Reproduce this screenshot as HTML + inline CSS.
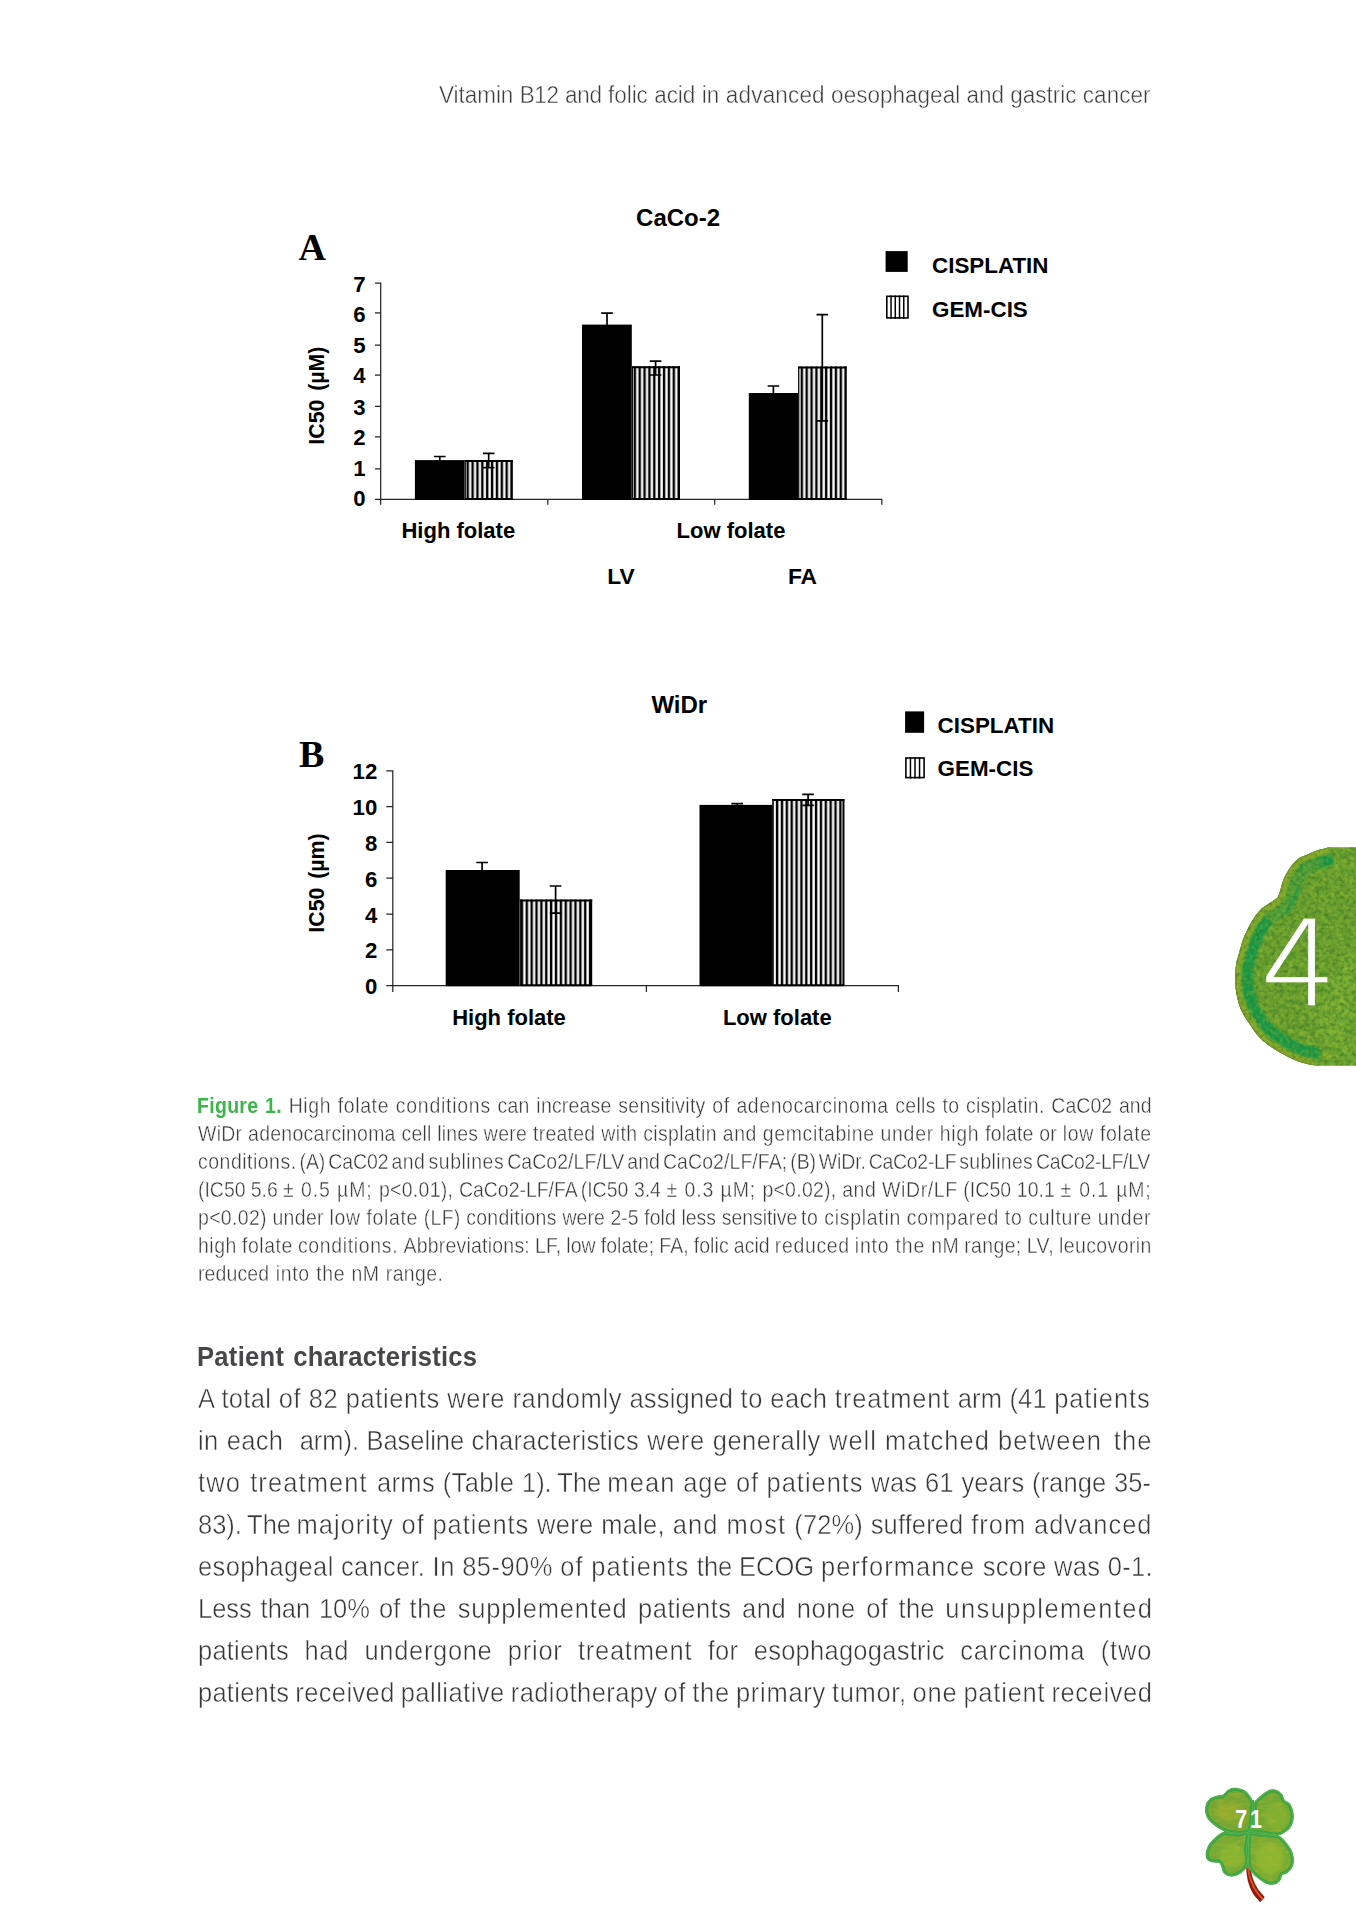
<!DOCTYPE html>
<html lang="en">
<head>
<meta charset="utf-8">
<title>Vitamin B12 and folic acid in advanced oesophageal and gastric cancer</title>
<style>
html,body{margin:0;padding:0;background:#fff;}
body{width:1356px;height:1920px;position:relative;overflow:hidden;font-family:"Liberation Sans",sans-serif;color:#58585a;}
.ln{position:absolute;white-space:nowrap;margin:0;transform-origin:0 0;transform:scaleX(0.91);}
.cap{font-size:21.4px;line-height:28px;color:#3a3a3c;-webkit-text-stroke:0.4px #fff;}
.cap b{color:#3bb54a;font-weight:bold;-webkit-text-stroke:0;}
.bd{font-size:28.0px;line-height:42px;color:#38383a;-webkit-text-stroke:0.5px #fff;}
.hd{font-size:24.7px;line-height:36px;color:#3c3c3e;-webkit-text-stroke:0.45px #fff;}
.h2{font-size:28.4px;line-height:42px;font-weight:bold;color:#474749;transform:scaleX(0.90);}
svg{position:absolute;left:0;top:0;overflow:visible;}
svg text{font-family:"Liberation Sans",sans-serif;font-weight:bold;fill:#000;}
</style>
</head>
<body>

<div class="ln hd" style="left:439.00px;top:77.34px"><span style="letter-spacing:-0.03px;word-spacing:0.16px">Vitamin </span><span style="letter-spacing:-0.34px;word-spacing:0.47px">B12 and </span><span style="letter-spacing:-0.03px;word-spacing:0.16px">folic acid </span><span style="letter-spacing:0.20px;word-spacing:-0.07px">in advanced </span><span style="letter-spacing:0.04px;word-spacing:0.09px">oesophageal </span><span style="letter-spacing:-0.01px;word-spacing:0.14px">and gastric </span><span style="letter-spacing:0.06px">cancer</span></div>
<svg id="charts" width="1356" height="1080" viewBox="0 0 1356 1080">
<defs><pattern id="st" x="0" y="0" width="4.87" height="8" patternUnits="userSpaceOnUse"><rect x="0" y="0" width="4.87" height="8" fill="#fff"/><rect x="1.8" y="0" width="2.45" height="8" fill="#000"/></pattern></defs>
<path d="M380.7 282.50V504.80M374.90 499.4H882.3M547.8 499.4v5.4M714.7 499.4v5.4M881.8 499.4v5.4M374.90 468.75H380.7M374.90 436.90H380.7M374.90 406.25H380.7M374.90 375.00H380.7M374.90 345.00H380.7M374.90 312.90H380.7M374.90 283.10H380.7" stroke="#262626" stroke-width="1.25" fill="none"/>
<text x="365.7" y="506.35" font-size="22.2" text-anchor="end">0</text>
<text x="365.7" y="475.70" font-size="22.2" text-anchor="end">1</text>
<text x="365.7" y="445.40" font-size="22.2" text-anchor="end">2</text>
<text x="365.7" y="415.10" font-size="22.2" text-anchor="end">3</text>
<text x="365.7" y="382.90" font-size="22.2" text-anchor="end">4</text>
<text x="365.7" y="352.90" font-size="22.2" text-anchor="end">5</text>
<text x="365.7" y="321.70" font-size="22.2" text-anchor="end">6</text>
<text x="365.7" y="291.70" font-size="22.2" text-anchor="end">7</text>
<rect x="414.90" y="460.10" width="49.80" height="39.90" fill="#000"/>
<g transform="translate(464.70 0)"><rect x="0.00" y="460.10" width="48.00" height="39.30" fill="url(#st)"/></g><path d="M464.70 461.10H512.70M464.70 499.10H512.70" stroke="#000" stroke-width="2" fill="none"/><path d="M511.80 460.10V499.40" stroke="#000" stroke-width="1.8" fill="none"/><path d="M465.25 460.10V499.40" stroke="#000" stroke-width="1.2" fill="none"/>
<rect x="582.00" y="324.60" width="49.80" height="175.40" fill="#000"/>
<g transform="translate(631.80 0)"><rect x="0.00" y="366.20" width="48.20" height="133.20" fill="url(#st)"/></g><path d="M631.80 367.20H680.00M631.80 499.10H680.00" stroke="#000" stroke-width="2" fill="none"/><path d="M679.10 366.20V499.40" stroke="#000" stroke-width="1.8" fill="none"/><path d="M632.35 366.20V499.40" stroke="#000" stroke-width="1.2" fill="none"/>
<rect x="748.80" y="393.00" width="49.40" height="107.00" fill="#000"/>
<g transform="translate(798.80 0)"><rect x="-0.60" y="366.50" width="48.40" height="132.90" fill="url(#st)"/></g><path d="M798.20 367.50H846.60M798.20 499.10H846.60" stroke="#000" stroke-width="2" fill="none"/><path d="M845.70 366.50V499.40" stroke="#000" stroke-width="1.8" fill="none"/><path d="M798.75 366.50V499.40" stroke="#000" stroke-width="1.2" fill="none"/>
<path d="M439.80 456.50V461.00M434.00 456.50h11.6" stroke="#000" stroke-width="1.7" fill="none"/>
<path d="M488.70 453.30V467.60M482.90 453.30h11.6M482.90 467.60h11.6" stroke="#000" stroke-width="1.7" fill="none"/>
<path d="M607.00 313.10V325.00M601.20 313.10h11.6" stroke="#000" stroke-width="1.7" fill="none"/>
<path d="M655.60 361.10V375.00M649.80 361.10h11.6M649.80 375.00h11.6" stroke="#000" stroke-width="1.7" fill="none"/>
<path d="M773.40 386.00V394.00M767.60 386.00h11.6" stroke="#000" stroke-width="1.7" fill="none"/>
<path d="M822.30 314.60V420.90M816.50 314.60h11.6M816.50 420.90h11.6" stroke="#000" stroke-width="1.7" fill="none"/>
<text x="678.1" y="226" font-size="24" text-anchor="middle">CaCo-2</text>
<text x="312.2" y="260.2" font-size="38" text-anchor="middle" style="font-family:'Liberation Serif',serif">A</text>
<text transform="translate(324.4 395.6) rotate(-90) scale(0.957 1)" font-size="22.3" text-anchor="middle" style="word-spacing:3px">IC50 (µM)</text>
<text x="458.3" y="538" font-size="22" text-anchor="middle">High folate</text>
<text x="731" y="538" font-size="22" text-anchor="middle">Low folate</text>
<text x="620.9" y="584" font-size="22.8" text-anchor="middle">LV</text>
<text x="802.5" y="584" font-size="22.8" text-anchor="middle">FA</text>
<rect x="885.6" y="251.1" width="22.1" height="20.8" fill="#000"/>
<rect x="886.80" y="296.30" width="21.20" height="21.60" fill="#fff" stroke="#000" stroke-width="1.6"/><path d="M891.04 295.50v23.20M895.28 295.50v23.20M899.52 295.50v23.20M903.76 295.50v23.20" stroke="#000" stroke-width="1.5" fill="none"/>
<text x="932" y="272.7" font-size="22.4">CISPLATIN</text>
<text x="932" y="316.9" font-size="22.4">GEM-CIS</text>
<path d="M392.8 770.20V992.00M386.30 985.6H898.9M646.4 985.6v6.4M898.4 985.6v6.4M386.30 949.80H392.8M386.30 914.00H392.8M386.30 878.20H392.8M386.30 842.40H392.8M386.30 806.60H392.8M386.30 770.80H392.8" stroke="#262626" stroke-width="1.25" fill="none"/>
<text x="377.3" y="994.10" font-size="22.2" text-anchor="end">0</text>
<text x="377.3" y="958.30" font-size="22.2" text-anchor="end">2</text>
<text x="377.3" y="922.50" font-size="22.2" text-anchor="end">4</text>
<text x="377.3" y="886.70" font-size="22.2" text-anchor="end">6</text>
<text x="377.3" y="850.90" font-size="22.2" text-anchor="end">8</text>
<text x="377.3" y="815.10" font-size="22.2" text-anchor="end">10</text>
<text x="377.3" y="779.30" font-size="22.2" text-anchor="end">12</text>
<rect x="445.70" y="870.00" width="74.00" height="116.20" fill="#000"/>
<g transform="translate(518.90 0)"><rect x="0.80" y="899.60" width="72.50" height="86.00" fill="url(#st)"/></g><path d="M519.70 900.60H592.20M519.70 985.30H592.20" stroke="#000" stroke-width="2" fill="none"/><path d="M591.30 899.60V985.60" stroke="#000" stroke-width="1.8" fill="none"/><path d="M520.25 899.60V985.60" stroke="#000" stroke-width="1.2" fill="none"/>
<rect x="699.50" y="804.90" width="73.00" height="181.30" fill="#000"/>
<g transform="translate(769.20 0)"><rect x="3.30" y="799.00" width="71.80" height="186.60" fill="url(#st)"/></g><path d="M772.50 800.00H844.30M772.50 985.30H844.30" stroke="#000" stroke-width="2" fill="none"/><path d="M843.40 799.00V985.60" stroke="#000" stroke-width="1.8" fill="none"/><path d="M773.05 799.00V985.60" stroke="#000" stroke-width="1.2" fill="none"/>
<path d="M482.10 862.50V871.00M476.30 862.50h11.6" stroke="#000" stroke-width="1.7" fill="none"/>
<path d="M555.60 886.00V913.20M549.80 886.00h11.6M549.80 913.20h11.6" stroke="#000" stroke-width="1.7" fill="none"/>
<path d="M737.20 803.60V806.00M731.40 803.60h11.6" stroke="#000" stroke-width="1.7" fill="none"/>
<path d="M808.10 794.30V805.40M802.30 794.30h11.6M802.30 805.40h11.6" stroke="#000" stroke-width="1.7" fill="none"/>
<text x="679.3" y="713.1" font-size="24" text-anchor="middle">WiDr</text>
<text x="311.7" y="767" font-size="38" text-anchor="middle" style="font-family:'Liberation Serif',serif">B</text>
<text transform="translate(324.4 883) rotate(-90) scale(0.957 1)" font-size="22.3" text-anchor="middle" style="word-spacing:3px">IC50 (µm)</text>
<text x="509" y="1024.7" font-size="22" text-anchor="middle">High folate</text>
<text x="777.3" y="1024.7" font-size="22" text-anchor="middle">Low folate</text>
<rect x="905.1" y="711.4" width="19" height="21.4" fill="#000"/>
<rect x="905.90" y="758.00" width="18.20" height="19.60" fill="#fff" stroke="#000" stroke-width="1.6"/><path d="M910.45 757.20v21.20M915.00 757.20v21.20M919.55 757.20v21.20" stroke="#000" stroke-width="1.5" fill="none"/>
<text x="937.6" y="732.6" font-size="22.4">CISPLATIN</text>
<text x="937.6" y="776.3" font-size="22.4">GEM-CIS</text>
</svg>
<div class="ln cap" style="left:196.50px;top:1092.08px"><b style="letter-spacing:0.35px;word-spacing:1.08px">Figure 1. </b><span style="letter-spacing:0.66px;word-spacing:0.78px">High folate </span><span style="letter-spacing:0.82px;word-spacing:0.62px">conditions </span><span style="letter-spacing:0.23px;word-spacing:1.21px">can increase </span><span style="letter-spacing:0.29px;word-spacing:1.14px">sensitivity </span><span style="letter-spacing:0.65px;word-spacing:0.78px">of adenocarcinoma </span><span style="letter-spacing:0.32px;word-spacing:1.11px">cells to cisplatin. </span><span style="letter-spacing:0.07px;word-spacing:1.36px">CaC02 and</span></div>
<div class="ln cap" style="left:197.55px;top:1120.11px"><span style="letter-spacing:0.29px;word-spacing:0.15px">WiDr adenocarcinoma </span><span style="letter-spacing:0.18px;word-spacing:0.26px">cell lines </span><span style="letter-spacing:0.30px;word-spacing:0.14px">were treated </span><span style="letter-spacing:0.41px;word-spacing:0.02px">with cisplatin </span><span style="letter-spacing:0.69px;word-spacing:-0.25px">and gemcitabine </span><span style="letter-spacing:0.78px;word-spacing:-0.34px">under high </span><span style="letter-spacing:0.15px;word-spacing:0.28px">folate or </span><span style="letter-spacing:0.79px;word-spacing:-0.35px">low folate</span></div>
<div class="ln cap" style="left:197.55px;top:1148.14px"><span style="letter-spacing:0.55px;word-spacing:-3.30px">conditions. </span><span style="letter-spacing:-0.06px;word-spacing:-2.69px">(A) CaC02 </span><span style="letter-spacing:0.57px;word-spacing:-3.08px">and sublines </span><span style="letter-spacing:0.06px;word-spacing:-2.81px">CaCo2/LF/LV </span><span style="letter-spacing:0.10px;word-spacing:-2.84px">and CaCo2/LF/FA; </span><span style="letter-spacing:-0.12px;word-spacing:-2.63px">(B) WiDr. </span><span style="letter-spacing:-0.31px;word-spacing:-2.43px">CaCo2-LF </span><span style="letter-spacing:0.35px;word-spacing:-3.09px">sublines </span><span style="letter-spacing:-0.38px">CaCo2-LF/LV</span></div>
<div class="ln cap" style="left:197.55px;top:1176.17px"><span style="letter-spacing:-0.02px;word-spacing:-0.10px">(IC50 5.6 </span><span style="letter-spacing:0.90px;word-spacing:0.29px">± 0.5 µM; </span><span style="letter-spacing:0.33px;word-spacing:-0.05px">p&lt;0.01), </span><span style="letter-spacing:-0.02px;word-spacing:-1.44px">CaCo2-LF/FA </span><span style="letter-spacing:-0.02px;word-spacing:0.30px">(IC50 3.4 </span><span style="letter-spacing:0.90px;word-spacing:0.29px">± 0.3 µM; </span><span style="letter-spacing:0.29px;word-spacing:-0.00px">p&lt;0.02), </span><span style="letter-spacing:0.66px;word-spacing:-0.38px">and WiDr/LF </span><span style="letter-spacing:0.04px;word-spacing:0.24px">(IC50 10.1 </span><span style="letter-spacing:0.90px;word-spacing:1.24px">± 0.1 µM;</span></div>
<div class="ln cap" style="left:197.55px;top:1204.20px"><span style="letter-spacing:0.36px;word-spacing:-0.13px">p&lt;0.02) under </span><span style="letter-spacing:0.75px;word-spacing:-0.52px">low folate </span><span style="letter-spacing:0.32px;word-spacing:-0.09px">(LF) conditions </span><span style="letter-spacing:0.06px;word-spacing:0.17px">were 2-5 </span><span style="letter-spacing:0.02px;word-spacing:0.21px">fold less </span><span style="letter-spacing:-0.02px;word-spacing:-1.88px">sensitive </span><span style="letter-spacing:0.79px;word-spacing:-0.57px">to cisplatin </span><span style="letter-spacing:0.82px;word-spacing:-0.59px">compared </span><span style="letter-spacing:0.85px;word-spacing:-0.62px">to culture under</span></div>
<div class="ln cap" style="left:197.55px;top:1232.23px"><span style="letter-spacing:0.58px;word-spacing:-0.93px">high folate </span><span style="letter-spacing:0.74px;word-spacing:-1.09px">conditions. </span><span style="letter-spacing:0.25px;word-spacing:-0.60px">Abbreviations: </span><span style="letter-spacing:0.06px;word-spacing:-0.41px">LF, low folate; </span><span style="letter-spacing:0.07px;word-spacing:-0.42px">FA, folic acid </span><span style="letter-spacing:0.71px;word-spacing:-1.06px">reduced </span><span style="letter-spacing:0.90px;word-spacing:-0.09px">into the </span><span style="letter-spacing:0.42px;word-spacing:-0.77px">nM range; </span><span style="letter-spacing:0.44px;word-spacing:-0.79px">LV, leucovorin</span></div>
<div class="ln cap" style="left:197.55px;top:1260.26px"><span style="letter-spacing:0.15px;word-spacing:0.90px">reduced </span><span style="letter-spacing:0.75px;word-spacing:0.29px">into the </span><span style="letter-spacing:0.42px;word-spacing:0.62px">nM range.</span></div>
<div class="ln h2" style="left:196.99px;top:1334.56px"><span style="letter-spacing:0.34px;word-spacing:1.78px">Patient </span><span style="letter-spacing:0.25px">characteristics</span></div>
<div class="ln bd" style="left:197.55px;top:1377.90px"><span style="letter-spacing:0.39px;word-spacing:0.01px">A total </span><span style="letter-spacing:0.68px;word-spacing:-0.28px">of 82 patients </span><span style="letter-spacing:0.66px;word-spacing:-0.27px">were randomly </span><span style="letter-spacing:0.23px;word-spacing:0.17px">assigned </span><span style="letter-spacing:0.53px;word-spacing:-0.13px">to each </span><span style="letter-spacing:0.95px;word-spacing:-0.56px">treatment </span><span style="letter-spacing:0.15px;word-spacing:0.25px">arm (41 </span><span style="letter-spacing:0.99px">patients</span></div>
<div class="ln bd" style="left:197.55px;top:1419.87px"><span style="letter-spacing:0.40px;word-spacing:0.76px">in each&nbsp; </span><span style="letter-spacing:0.00px;word-spacing:0.25px">arm). Baseline </span><span style="letter-spacing:0.35px;word-spacing:0.81px">characteristics </span><span style="letter-spacing:0.58px;word-spacing:0.57px">were generally </span><span style="letter-spacing:1.12px;word-spacing:0.03px">well matched </span><span style="letter-spacing:1.21px;word-spacing:3.86px">between the</span></div>
<div class="ln bd" style="left:197.55px;top:1461.84px"><span style="letter-spacing:1.21px;word-spacing:1.16px">two treatment </span><span style="letter-spacing:0.38px;word-spacing:0.36px">arms (Table </span><span style="letter-spacing:0.00px;word-spacing:-1.08px">1). The </span><span style="letter-spacing:1.18px;word-spacing:-0.44px">mean </span><span style="letter-spacing:0.91px;word-spacing:-0.17px">age of </span><span style="letter-spacing:1.07px;word-spacing:-0.32px">patients </span><span style="letter-spacing:0.20px;word-spacing:0.55px">was 61 </span><span style="letter-spacing:0.10px;word-spacing:0.65px">years (range 35-</span></div>
<div class="ln bd" style="left:197.55px;top:1503.81px"><span style="letter-spacing:0.00px;word-spacing:-1.60px">83). The </span><span style="letter-spacing:1.08px;word-spacing:-0.22px">majority </span><span style="letter-spacing:1.03px;word-spacing:-0.17px">of patients </span><span style="letter-spacing:0.28px;word-spacing:0.58px">were male, </span><span style="letter-spacing:1.21px;word-spacing:-0.11px">and most </span><span style="letter-spacing:0.14px;word-spacing:0.72px">(72%) suffered </span><span style="letter-spacing:1.09px;word-spacing:-0.22px">from advanced</span></div>
<div class="ln bd" style="left:197.55px;top:1545.78px"><span style="letter-spacing:0.43px;word-spacing:-0.13px">esophageal </span><span style="letter-spacing:0.32px;word-spacing:-0.02px">cancer. </span><span style="letter-spacing:0.53px;word-spacing:-0.23px">In 85-90% </span><span style="letter-spacing:1.21px;word-spacing:-0.71px">of patients </span><span style="letter-spacing:0.00px;word-spacing:-0.27px">the ECOG </span><span style="letter-spacing:1.13px;word-spacing:-0.83px">performance </span><span style="letter-spacing:0.37px;word-spacing:-0.07px">score was 0-1.</span></div>
<div class="ln bd" style="left:197.55px;top:1587.75px"><span style="letter-spacing:0.00px;word-spacing:1.82px">Less than </span><span style="letter-spacing:0.00px;word-spacing:2.27px">10% of </span><span style="letter-spacing:0.88px;word-spacing:2.90px">the supplemented </span><span style="letter-spacing:0.59px;word-spacing:3.19px">patients </span><span style="letter-spacing:0.62px;word-spacing:3.15px">and none </span><span style="letter-spacing:0.31px;word-spacing:3.47px">of the </span><span style="letter-spacing:1.54px">unsupplemented</span></div>
<div class="ln bd" style="left:197.55px;top:1629.72px"><span style="letter-spacing:0.25px;word-spacing:8.95px">patients </span><span style="letter-spacing:0.74px;word-spacing:8.45px">had undergone </span><span style="letter-spacing:0.81px;word-spacing:8.38px">prior treatment </span><span style="letter-spacing:0.30px;word-spacing:8.89px">for esophagogastric </span><span style="letter-spacing:0.92px;word-spacing:8.27px">carcinoma (two</span></div>
<div class="ln bd" style="left:197.55px;top:1671.69px"><span style="letter-spacing:0.29px;word-spacing:-1.52px">patients </span><span style="letter-spacing:0.42px;word-spacing:-1.64px">received </span><span style="letter-spacing:0.54px;word-spacing:-1.76px">palliative </span><span style="letter-spacing:0.48px;word-spacing:-1.70px">radiotherapy </span><span style="letter-spacing:0.82px;word-spacing:-2.04px">of the primary </span><span style="letter-spacing:0.68px;word-spacing:-1.91px">tumor, </span><span style="letter-spacing:0.87px;word-spacing:-2.09px">one patient </span><span style="letter-spacing:0.66px">received</span></div>
<svg id="tab" width="1356" height="1920" viewBox="0 0 1356 1920">
<defs>
<clipPath id="tabclip"><path d="M1357 847.2L1329.5 847.2C1327.4 847.8 1320.8 849.3 1317.1 850.5C1313.4 851.7 1310.5 853.1 1307.5 854.4C1304.5 855.7 1301.5 856.5 1298.9 858.2C1296.4 860.0 1294.3 862.3 1292.2 864.9C1290.1 867.5 1288.0 870.7 1286.4 873.6C1284.8 876.5 1283.6 879.3 1282.6 882.2C1281.6 885.1 1281.0 888.2 1280.2 890.8C1279.4 893.3 1278.2 896.4 1277.8 897.5C1276.7 898.3 1273.7 900.5 1271.1 902.3C1268.5 904.1 1265.1 905.7 1262.4 908.1C1259.7 910.5 1257.2 913.4 1254.8 916.7C1252.4 920.1 1250.0 924.5 1248.1 928.2C1246.2 931.9 1244.6 935.4 1243.3 938.8C1242.0 942.1 1241.3 945.3 1240.4 948.3C1239.5 951.3 1238.7 954.3 1238.0 957.0C1237.3 959.7 1236.6 960.8 1236.1 964.4C1235.6 968.0 1235.1 974.3 1235.1 978.8C1235.1 983.3 1235.5 987.2 1236.1 991.2C1236.7 995.2 1237.4 999.0 1238.5 1002.7C1239.6 1006.4 1240.9 1009.6 1242.8 1013.3C1244.7 1017.0 1247.5 1021.1 1250.0 1024.8C1252.5 1028.5 1255.2 1032.4 1257.6 1035.3C1260.0 1038.2 1261.7 1039.8 1264.4 1042.0C1267.1 1044.2 1270.4 1046.5 1273.9 1048.8C1277.4 1051.0 1281.4 1053.4 1285.4 1055.5C1289.4 1057.6 1293.4 1059.6 1297.9 1061.2C1302.4 1062.8 1309.0 1064.3 1312.3 1065.1C1315.6 1065.8 1317.0 1065.6 1318.0 1065.7L1357 1065.7Z"/></clipPath>
<filter id="tex" x="0" y="0" width="100%" height="100%" filterUnits="objectBoundingBox" color-interpolation-filters="sRGB">
<feTurbulence type="fractalNoise" baseFrequency="0.16 0.13" numOctaves="3" seed="7" result="n"/>
<feColorMatrix in="n" type="matrix" values="0 0 0 0 0.58  0 0 0 0 0.74  0 0 0 0 0.20  1.4 0 0 0 -0.56" result="hi"/>
<feTurbulence type="fractalNoise" baseFrequency="0.2 0.17" numOctaves="2" seed="23" result="n2"/>
<feColorMatrix in="n2" type="matrix" values="0 0 0 0 0.25  0 0 0 0 0.52  0 0 0 0 0.16  0 1.5 0 0 -0.58" result="lo"/>
<feMerge result="m"><feMergeNode in="SourceGraphic"/><feMergeNode in="hi"/><feMergeNode in="lo"/></feMerge>
<feComposite in="m" in2="SourceGraphic" operator="in"/>
</filter>
<filter id="tex2" x="0" y="0" width="100%" height="100%" filterUnits="objectBoundingBox" color-interpolation-filters="sRGB">
<feTurbulence type="fractalNoise" baseFrequency="0.3 0.22" numOctaves="2" seed="11" result="n"/>
<feColorMatrix in="n" type="matrix" values="0 0 0 0 0.55  0 0 0 0 0.70  0 0 0 0 0.2  1.3 0 0 0 -0.56"/>
</filter>
<filter id="tex3" x="0" y="0" width="100%" height="100%" filterUnits="objectBoundingBox" color-interpolation-filters="sRGB">
<feTurbulence type="fractalNoise" baseFrequency="0.25 0.3" numOctaves="2" seed="31" result="n"/>
<feColorMatrix in="n" type="matrix" values="0 0 0 0 0.2  0 0 0 0 0.42  0 0 0 0 0.12  0 1.3 0 0 -0.58"/>
</filter>
<filter id="b1" x="-20%" y="-20%" width="140%" height="140%"><feGaussianBlur stdDeviation="1.2"/></filter>
<filter id="b3" x="-50%" y="-50%" width="200%" height="200%"><feGaussianBlur stdDeviation="3"/></filter>
</defs>
<g clip-path="url(#tabclip)">
<g filter="url(#tex)">
<rect x="1225" y="840" width="140" height="235" fill="#6da230"/>
<path d="M1300 1000 L1340 1060 L1356 1066 L1356 960 Z" fill="#7db534" opacity="0.45" filter="url(#b3)"/>
<path d="M1349 955 L1334 1030 L1324 1066" fill="none" stroke="#a6d23e" stroke-width="4" opacity="0.6" filter="url(#b3)"/>
<path d="M1322 872 L1352 862" fill="none" stroke="#a5d23c" stroke-width="4" opacity="0.5" filter="url(#b3)"/>
</g>
<path d="M1329.5 847.2C1327.4 847.8 1320.8 849.3 1317.1 850.5C1313.4 851.7 1310.5 853.1 1307.5 854.4C1304.5 855.7 1301.5 856.5 1298.9 858.2C1296.4 860.0 1294.3 862.3 1292.2 864.9C1290.1 867.5 1288.0 870.7 1286.4 873.6C1284.8 876.5 1283.6 879.3 1282.6 882.2C1281.6 885.1 1281.0 888.2 1280.2 890.8C1279.4 893.3 1278.2 896.4 1277.8 897.5C1276.7 898.3 1273.7 900.5 1271.1 902.3C1268.5 904.1 1265.1 905.7 1262.4 908.1C1259.7 910.5 1257.2 913.4 1254.8 916.7C1252.4 920.1 1250.0 924.5 1248.1 928.2C1246.2 931.9 1244.6 935.4 1243.3 938.8C1242.0 942.1 1241.3 945.3 1240.4 948.3C1239.5 951.3 1238.7 954.3 1238.0 957.0C1237.3 959.7 1236.6 960.8 1236.1 964.4C1235.6 968.0 1235.1 974.3 1235.1 978.8C1235.1 983.3 1235.5 987.2 1236.1 991.2C1236.7 995.2 1237.4 999.0 1238.5 1002.7C1239.6 1006.4 1240.9 1009.6 1242.8 1013.3C1244.7 1017.0 1247.5 1021.1 1250.0 1024.8C1252.5 1028.5 1255.2 1032.4 1257.6 1035.3C1260.0 1038.2 1261.7 1039.8 1264.4 1042.0C1267.1 1044.2 1270.4 1046.5 1273.9 1048.8C1277.4 1051.0 1281.4 1053.4 1285.4 1055.5C1289.4 1057.6 1293.4 1059.6 1297.9 1061.2C1302.4 1062.8 1309.0 1064.3 1312.3 1065.1C1315.6 1065.8 1317.0 1065.6 1318.0 1065.7" fill="none" stroke="#129a49" stroke-width="36" stroke-linejoin="round" filter="url(#b1)"/>
<path d="M1262 915 L1282 893 L1296 872 L1310 862 L1322 858 L1318 868 L1300 884 L1290 905 L1275 925 Z" fill="#5fa035" opacity="0.75" filter="url(#b1)"/>
<path d="M1329.5 847.2C1327.4 847.8 1320.8 849.3 1317.1 850.5C1313.4 851.7 1310.5 853.1 1307.5 854.4C1304.5 855.7 1301.5 856.5 1298.9 858.2C1296.4 860.0 1294.3 862.3 1292.2 864.9C1290.1 867.5 1288.0 870.7 1286.4 873.6C1284.8 876.5 1283.6 879.3 1282.6 882.2C1281.6 885.1 1281.0 888.2 1280.2 890.8C1279.4 893.3 1278.2 896.4 1277.8 897.5C1276.7 898.3 1273.7 900.5 1271.1 902.3C1268.5 904.1 1265.1 905.7 1262.4 908.1C1259.7 910.5 1257.2 913.4 1254.8 916.7C1252.4 920.1 1250.0 924.5 1248.1 928.2C1246.2 931.9 1244.6 935.4 1243.3 938.8C1242.0 942.1 1241.3 945.3 1240.4 948.3C1239.5 951.3 1238.7 954.3 1238.0 957.0C1237.3 959.7 1236.6 960.8 1236.1 964.4C1235.6 968.0 1235.1 974.3 1235.1 978.8C1235.1 983.3 1235.5 987.2 1236.1 991.2C1236.7 995.2 1237.4 999.0 1238.5 1002.7C1239.6 1006.4 1240.9 1009.6 1242.8 1013.3C1244.7 1017.0 1247.5 1021.1 1250.0 1024.8C1252.5 1028.5 1255.2 1032.4 1257.6 1035.3C1260.0 1038.2 1261.7 1039.8 1264.4 1042.0C1267.1 1044.2 1270.4 1046.5 1273.9 1048.8C1277.4 1051.0 1281.4 1053.4 1285.4 1055.5C1289.4 1057.6 1293.4 1059.6 1297.9 1061.2C1302.4 1062.8 1309.0 1064.3 1312.3 1065.1C1315.6 1065.8 1317.0 1065.6 1318.0 1065.7" fill="none" stroke="#86a92c" stroke-width="13" stroke-linejoin="round" filter="url(#b1)"/>
<path d="M1329.5 847.2C1327.4 847.8 1320.8 849.3 1317.1 850.5C1313.4 851.7 1310.5 853.1 1307.5 854.4C1304.5 855.7 1301.5 856.5 1298.9 858.2C1296.4 860.0 1294.3 862.3 1292.2 864.9C1290.1 867.5 1288.0 870.7 1286.4 873.6C1284.8 876.5 1283.6 879.3 1282.6 882.2C1281.6 885.1 1281.0 888.2 1280.2 890.8C1279.4 893.3 1278.2 896.4 1277.8 897.5C1276.7 898.3 1273.7 900.5 1271.1 902.3C1268.5 904.1 1265.1 905.7 1262.4 908.1C1259.7 910.5 1257.2 913.4 1254.8 916.7C1252.4 920.1 1250.0 924.5 1248.1 928.2C1246.2 931.9 1244.6 935.4 1243.3 938.8C1242.0 942.1 1241.3 945.3 1240.4 948.3C1239.5 951.3 1238.7 954.3 1238.0 957.0C1237.3 959.7 1236.6 960.8 1236.1 964.4C1235.6 968.0 1235.1 974.3 1235.1 978.8C1235.1 983.3 1235.5 987.2 1236.1 991.2C1236.7 995.2 1237.4 999.0 1238.5 1002.7C1239.6 1006.4 1240.9 1009.6 1242.8 1013.3C1244.7 1017.0 1247.5 1021.1 1250.0 1024.8C1252.5 1028.5 1255.2 1032.4 1257.6 1035.3C1260.0 1038.2 1261.7 1039.8 1264.4 1042.0C1267.1 1044.2 1270.4 1046.5 1273.9 1048.8C1277.4 1051.0 1281.4 1053.4 1285.4 1055.5C1289.4 1057.6 1293.4 1059.6 1297.9 1061.2C1302.4 1062.8 1309.0 1064.3 1312.3 1065.1C1315.6 1065.8 1317.0 1065.6 1318.0 1065.7" fill="none" stroke="#6d8f22" stroke-width="2.2" stroke-linejoin="round" opacity="0.7"/>
<rect x="1225" y="840" width="140" height="235" fill="#000" filter="url(#tex2)"/>
<rect x="1225" y="840" width="140" height="235" fill="#000" filter="url(#tex3)"/>
</g>
<text x="1298.6" y="1005.4" font-size="118.5" text-anchor="middle" style="font-family:'DejaVu Sans','Liberation Sans',sans-serif;font-weight:200;fill:#fff;stroke:#fff;stroke-width:0.7px">4</text>
</svg><svg id="clover" width="1356" height="1920" viewBox="0 0 1356 1920">
<defs>
<clipPath id="ctl"><path d="M1249.9 1830.7C1251.7 1827.9 1251.7 1821.1 1252.1 1816.5C1252.6 1811.9 1253.4 1806.8 1252.8 1803.1C1252.2 1799.5 1250.4 1796.8 1248.7 1794.6C1247.1 1792.4 1245.5 1791.2 1243.1 1790.1C1240.6 1789.1 1236.7 1788.0 1234.1 1788.1C1231.6 1788.2 1229.5 1789.4 1227.6 1790.5C1225.7 1791.7 1224.7 1794.1 1222.8 1795.0C1220.9 1796.0 1218.4 1795.5 1216.3 1796.2C1214.1 1796.9 1211.5 1797.6 1209.8 1799.1C1208.1 1800.6 1206.8 1802.9 1206.1 1805.1C1205.5 1807.4 1205.4 1810.2 1205.7 1812.4C1206.1 1814.7 1206.8 1816.9 1208.2 1818.9C1209.5 1821.0 1211.7 1822.9 1213.8 1824.6C1216.0 1826.4 1218.4 1828.1 1221.1 1829.5C1223.9 1830.8 1226.7 1832.1 1230.1 1832.7C1233.5 1833.4 1238.1 1833.9 1241.4 1833.5C1244.7 1833.2 1248.2 1833.5 1249.9 1830.7Z"/></clipPath>
<clipPath id="ctr"><path d="M1251.2 1830.7C1250.4 1828.0 1254.1 1820.9 1254.6 1816.5C1255.0 1812.1 1253.2 1807.3 1253.8 1804.3C1254.3 1801.4 1255.7 1800.7 1257.7 1798.7C1259.7 1796.6 1263.5 1793.7 1265.8 1792.2C1268.1 1790.7 1269.6 1790.0 1271.4 1789.7C1273.3 1789.5 1275.4 1789.7 1277.1 1790.5C1278.9 1791.4 1280.8 1793.0 1282.0 1794.6C1283.2 1796.2 1283.2 1798.8 1284.4 1800.3C1285.6 1801.8 1287.9 1801.9 1289.3 1803.5C1290.6 1805.1 1291.9 1807.6 1292.5 1810.0C1293.2 1812.4 1293.6 1815.4 1293.3 1818.1C1293.1 1820.8 1292.3 1823.9 1290.9 1826.2C1289.6 1828.5 1287.4 1830.4 1285.2 1831.9C1283.1 1833.4 1280.6 1834.7 1277.9 1835.2C1275.2 1835.6 1272.1 1834.9 1269.0 1834.5C1265.9 1834.1 1262.3 1833.4 1259.3 1832.7C1256.3 1832.1 1251.9 1833.4 1251.2 1830.7Z"/></clipPath>
<clipPath id="cbl"><path d="M1248.3 1833.1C1246.9 1830.6 1241.5 1833.8 1238.2 1833.7C1234.9 1833.6 1231.2 1832.9 1228.4 1832.7C1225.7 1832.6 1224.3 1831.9 1222.0 1832.9C1219.7 1833.8 1216.8 1836.4 1214.7 1838.4C1212.5 1840.4 1210.4 1842.5 1209.0 1844.9C1207.6 1847.3 1206.4 1850.6 1206.1 1853.0C1205.9 1855.4 1206.3 1858.0 1207.4 1859.5C1208.4 1861.0 1210.2 1861.4 1212.2 1861.9C1214.3 1862.5 1217.9 1861.8 1219.5 1862.7C1221.1 1863.7 1221.3 1866.0 1222.0 1867.6C1222.6 1869.2 1222.5 1871.1 1223.6 1872.5C1224.7 1873.8 1226.6 1875.2 1228.4 1875.7C1230.3 1876.3 1232.8 1876.3 1234.9 1875.7C1237.1 1875.2 1239.5 1873.8 1241.4 1872.5C1243.3 1871.1 1245.2 1869.5 1246.3 1867.6C1247.4 1865.7 1248.0 1864.2 1248.1 1861.1C1248.1 1858.0 1246.7 1853.6 1246.7 1849.0C1246.7 1844.3 1249.7 1835.7 1248.3 1833.1Z"/></clipPath>
<clipPath id="cbr"><path d="M1249.5 1833.1C1247.7 1835.0 1248.4 1840.9 1248.1 1844.9C1247.8 1848.9 1247.8 1853.4 1247.9 1857.1C1248.0 1860.7 1247.9 1864.1 1248.7 1866.8C1249.5 1869.5 1251.0 1871.3 1252.8 1873.3C1254.5 1875.3 1256.8 1877.2 1259.3 1879.0C1261.7 1880.7 1264.7 1883.0 1267.4 1883.8C1270.1 1884.6 1273.3 1884.5 1275.5 1883.8C1277.7 1883.2 1279.3 1881.3 1280.4 1879.8C1281.4 1878.3 1280.8 1876.1 1282.0 1874.9C1283.2 1873.7 1285.9 1874.0 1287.7 1872.5C1289.4 1871.0 1291.6 1868.4 1292.5 1866.0C1293.5 1863.6 1293.6 1860.6 1293.3 1857.9C1293.1 1855.2 1292.3 1852.5 1290.9 1849.8C1289.6 1847.1 1287.3 1844.0 1285.2 1841.7C1283.2 1839.4 1281.4 1837.2 1278.7 1836.0C1276.0 1834.8 1272.3 1834.9 1269.0 1834.5C1265.8 1834.1 1262.5 1833.9 1259.3 1833.7C1256.0 1833.5 1251.4 1831.3 1249.5 1833.1Z"/></clipPath>
<filter id="cb" x="-20%" y="-20%" width="140%" height="140%"><feGaussianBlur stdDeviation="0.7"/></filter>
<filter id="cb2" x="-50%" y="-50%" width="200%" height="200%"><feGaussianBlur stdDeviation="2.2"/></filter>
<filter id="ctex" x="0" y="0" width="100%" height="100%" color-interpolation-filters="sRGB">
<feTurbulence type="fractalNoise" baseFrequency="0.12 0.3" numOctaves="2" seed="5" result="n"/>
<feColorMatrix in="n" type="matrix" values="0 0 0 0 0.66  0 0 0 0 0.72  0 0 0 0 0.18  1.6 0 0 0 -0.68" result="c"/>
<feComposite in="c" in2="SourceGraphic" operator="in"/>
</filter>
</defs>
<path d="M1246.1 1866.0C1246.3 1867.6 1246.5 1872.6 1246.9 1875.7C1247.4 1878.8 1247.9 1881.7 1248.9 1884.6C1249.9 1887.6 1251.1 1890.6 1252.9 1893.6C1254.8 1896.5 1259.0 1900.9 1260.2 1902.3L1264.8 1897.0C1263.6 1895.6 1259.7 1891.6 1257.8 1888.7C1255.9 1885.8 1254.4 1882.6 1253.3 1879.8C1252.2 1876.9 1251.8 1874.0 1251.2 1871.7C1250.6 1869.4 1249.9 1866.9 1249.7 1866.0Z" fill="#8f1b0d"/>
<path d="M1248.1 1866.8C1248.3 1868.3 1248.9 1873.0 1249.5 1875.7C1250.2 1878.4 1250.9 1880.4 1252.0 1883.0C1253.1 1885.6 1254.4 1888.6 1256.2 1891.3C1258.0 1894.0 1261.7 1897.9 1262.8 1899.3" fill="none" stroke="#df4d2c" stroke-width="1.9" stroke-linecap="butt" filter="url(#cb)"/>
<path d="M1246 1800L1254 1800L1254 1828L1270 1832L1270 1838L1252 1838L1251 1868L1246 1868L1246 1838L1224 1836L1224 1830L1246 1828Z" fill="#3fa842"/>
<path d="M1249.9 1830.7C1251.7 1827.9 1251.7 1821.1 1252.1 1816.5C1252.6 1811.9 1253.4 1806.8 1252.8 1803.1C1252.2 1799.5 1250.4 1796.8 1248.7 1794.6C1247.1 1792.4 1245.5 1791.2 1243.1 1790.1C1240.6 1789.1 1236.7 1788.0 1234.1 1788.1C1231.6 1788.2 1229.5 1789.4 1227.6 1790.5C1225.7 1791.7 1224.7 1794.1 1222.8 1795.0C1220.9 1796.0 1218.4 1795.5 1216.3 1796.2C1214.1 1796.9 1211.5 1797.6 1209.8 1799.1C1208.1 1800.6 1206.8 1802.9 1206.1 1805.1C1205.5 1807.4 1205.4 1810.2 1205.7 1812.4C1206.1 1814.7 1206.8 1816.9 1208.2 1818.9C1209.5 1821.0 1211.7 1822.9 1213.8 1824.6C1216.0 1826.4 1218.4 1828.1 1221.1 1829.5C1223.9 1830.8 1226.7 1832.1 1230.1 1832.7C1233.5 1833.4 1238.1 1833.9 1241.4 1833.5C1244.7 1833.2 1248.2 1833.5 1249.9 1830.7Z" fill="#3fa842" stroke="#3fa842" stroke-width="0.8" stroke-linejoin="round"/>
<path d="M1251.2 1830.7C1250.4 1828.0 1254.1 1820.9 1254.6 1816.5C1255.0 1812.1 1253.2 1807.3 1253.8 1804.3C1254.3 1801.4 1255.7 1800.7 1257.7 1798.7C1259.7 1796.6 1263.5 1793.7 1265.8 1792.2C1268.1 1790.7 1269.6 1790.0 1271.4 1789.7C1273.3 1789.5 1275.4 1789.7 1277.1 1790.5C1278.9 1791.4 1280.8 1793.0 1282.0 1794.6C1283.2 1796.2 1283.2 1798.8 1284.4 1800.3C1285.6 1801.8 1287.9 1801.9 1289.3 1803.5C1290.6 1805.1 1291.9 1807.6 1292.5 1810.0C1293.2 1812.4 1293.6 1815.4 1293.3 1818.1C1293.1 1820.8 1292.3 1823.9 1290.9 1826.2C1289.6 1828.5 1287.4 1830.4 1285.2 1831.9C1283.1 1833.4 1280.6 1834.7 1277.9 1835.2C1275.2 1835.6 1272.1 1834.9 1269.0 1834.5C1265.9 1834.1 1262.3 1833.4 1259.3 1832.7C1256.3 1832.1 1251.9 1833.4 1251.2 1830.7Z" fill="#3fa842" stroke="#3fa842" stroke-width="0.8" stroke-linejoin="round"/>
<path d="M1248.3 1833.1C1246.9 1830.6 1241.5 1833.8 1238.2 1833.7C1234.9 1833.6 1231.2 1832.9 1228.4 1832.7C1225.7 1832.6 1224.3 1831.9 1222.0 1832.9C1219.7 1833.8 1216.8 1836.4 1214.7 1838.4C1212.5 1840.4 1210.4 1842.5 1209.0 1844.9C1207.6 1847.3 1206.4 1850.6 1206.1 1853.0C1205.9 1855.4 1206.3 1858.0 1207.4 1859.5C1208.4 1861.0 1210.2 1861.4 1212.2 1861.9C1214.3 1862.5 1217.9 1861.8 1219.5 1862.7C1221.1 1863.7 1221.3 1866.0 1222.0 1867.6C1222.6 1869.2 1222.5 1871.1 1223.6 1872.5C1224.7 1873.8 1226.6 1875.2 1228.4 1875.7C1230.3 1876.3 1232.8 1876.3 1234.9 1875.7C1237.1 1875.2 1239.5 1873.8 1241.4 1872.5C1243.3 1871.1 1245.2 1869.5 1246.3 1867.6C1247.4 1865.7 1248.0 1864.2 1248.1 1861.1C1248.1 1858.0 1246.7 1853.6 1246.7 1849.0C1246.7 1844.3 1249.7 1835.7 1248.3 1833.1Z" fill="#3fa842" stroke="#3fa842" stroke-width="0.8" stroke-linejoin="round"/>
<path d="M1249.5 1833.1C1247.7 1835.0 1248.4 1840.9 1248.1 1844.9C1247.8 1848.9 1247.8 1853.4 1247.9 1857.1C1248.0 1860.7 1247.9 1864.1 1248.7 1866.8C1249.5 1869.5 1251.0 1871.3 1252.8 1873.3C1254.5 1875.3 1256.8 1877.2 1259.3 1879.0C1261.7 1880.7 1264.7 1883.0 1267.4 1883.8C1270.1 1884.6 1273.3 1884.5 1275.5 1883.8C1277.7 1883.2 1279.3 1881.3 1280.4 1879.8C1281.4 1878.3 1280.8 1876.1 1282.0 1874.9C1283.2 1873.7 1285.9 1874.0 1287.7 1872.5C1289.4 1871.0 1291.6 1868.4 1292.5 1866.0C1293.5 1863.6 1293.6 1860.6 1293.3 1857.9C1293.1 1855.2 1292.3 1852.5 1290.9 1849.8C1289.6 1847.1 1287.3 1844.0 1285.2 1841.7C1283.2 1839.4 1281.4 1837.2 1278.7 1836.0C1276.0 1834.8 1272.3 1834.9 1269.0 1834.5C1265.8 1834.1 1262.5 1833.9 1259.3 1833.7C1256.0 1833.5 1251.4 1831.3 1249.5 1833.1Z" fill="#3fa842" stroke="#3fa842" stroke-width="0.8" stroke-linejoin="round"/>
<g clip-path="url(#ctl)"><path d="M1249.9 1830.7C1251.7 1827.9 1251.7 1821.1 1252.1 1816.5C1252.6 1811.9 1253.4 1806.8 1252.8 1803.1C1252.2 1799.5 1250.4 1796.8 1248.7 1794.6C1247.1 1792.4 1245.5 1791.2 1243.1 1790.1C1240.6 1789.1 1236.7 1788.0 1234.1 1788.1C1231.6 1788.2 1229.5 1789.4 1227.6 1790.5C1225.7 1791.7 1224.7 1794.1 1222.8 1795.0C1220.9 1796.0 1218.4 1795.5 1216.3 1796.2C1214.1 1796.9 1211.5 1797.6 1209.8 1799.1C1208.1 1800.6 1206.8 1802.9 1206.1 1805.1C1205.5 1807.4 1205.4 1810.2 1205.7 1812.4C1206.1 1814.7 1206.8 1816.9 1208.2 1818.9C1209.5 1821.0 1211.7 1822.9 1213.8 1824.6C1216.0 1826.4 1218.4 1828.1 1221.1 1829.5C1223.9 1830.8 1226.7 1832.1 1230.1 1832.7C1233.5 1833.4 1238.1 1833.9 1241.4 1833.5C1244.7 1833.2 1248.2 1833.5 1249.9 1830.7Z" fill="#76a634"/><ellipse cx="1230" cy="1812" rx="14" ry="9" fill="#9cae2e" filter="url(#cb2)" opacity="0.8"/><path d="M1249.9 1830.7C1251.7 1827.9 1251.7 1821.1 1252.1 1816.5C1252.6 1811.9 1253.4 1806.8 1252.8 1803.1C1252.2 1799.5 1250.4 1796.8 1248.7 1794.6C1247.1 1792.4 1245.5 1791.2 1243.1 1790.1C1240.6 1789.1 1236.7 1788.0 1234.1 1788.1C1231.6 1788.2 1229.5 1789.4 1227.6 1790.5C1225.7 1791.7 1224.7 1794.1 1222.8 1795.0C1220.9 1796.0 1218.4 1795.5 1216.3 1796.2C1214.1 1796.9 1211.5 1797.6 1209.8 1799.1C1208.1 1800.6 1206.8 1802.9 1206.1 1805.1C1205.5 1807.4 1205.4 1810.2 1205.7 1812.4C1206.1 1814.7 1206.8 1816.9 1208.2 1818.9C1209.5 1821.0 1211.7 1822.9 1213.8 1824.6C1216.0 1826.4 1218.4 1828.1 1221.1 1829.5C1223.9 1830.8 1226.7 1832.1 1230.1 1832.7C1233.5 1833.4 1238.1 1833.9 1241.4 1833.5C1244.7 1833.2 1248.2 1833.5 1249.9 1830.7Z" fill="#76a634" filter="url(#ctex)" opacity="0.8"/><path d="M1249.9 1830.7C1251.7 1827.9 1251.7 1821.1 1252.1 1816.5C1252.6 1811.9 1253.4 1806.8 1252.8 1803.1C1252.2 1799.5 1250.4 1796.8 1248.7 1794.6C1247.1 1792.4 1245.5 1791.2 1243.1 1790.1C1240.6 1789.1 1236.7 1788.0 1234.1 1788.1C1231.6 1788.2 1229.5 1789.4 1227.6 1790.5C1225.7 1791.7 1224.7 1794.1 1222.8 1795.0C1220.9 1796.0 1218.4 1795.5 1216.3 1796.2C1214.1 1796.9 1211.5 1797.6 1209.8 1799.1C1208.1 1800.6 1206.8 1802.9 1206.1 1805.1C1205.5 1807.4 1205.4 1810.2 1205.7 1812.4C1206.1 1814.7 1206.8 1816.9 1208.2 1818.9C1209.5 1821.0 1211.7 1822.9 1213.8 1824.6C1216.0 1826.4 1218.4 1828.1 1221.1 1829.5C1223.9 1830.8 1226.7 1832.1 1230.1 1832.7C1233.5 1833.4 1238.1 1833.9 1241.4 1833.5C1244.7 1833.2 1248.2 1833.5 1249.9 1830.7Z" fill="none" stroke="#38a646" stroke-width="5.4" stroke-linejoin="round" filter="url(#cb)"/><path d="M1249.9 1830.7C1251.7 1827.9 1251.7 1821.1 1252.1 1816.5C1252.6 1811.9 1253.4 1806.8 1252.8 1803.1C1252.2 1799.5 1250.4 1796.8 1248.7 1794.6C1247.1 1792.4 1245.5 1791.2 1243.1 1790.1C1240.6 1789.1 1236.7 1788.0 1234.1 1788.1C1231.6 1788.2 1229.5 1789.4 1227.6 1790.5C1225.7 1791.7 1224.7 1794.1 1222.8 1795.0C1220.9 1796.0 1218.4 1795.5 1216.3 1796.2C1214.1 1796.9 1211.5 1797.6 1209.8 1799.1C1208.1 1800.6 1206.8 1802.9 1206.1 1805.1C1205.5 1807.4 1205.4 1810.2 1205.7 1812.4C1206.1 1814.7 1206.8 1816.9 1208.2 1818.9C1209.5 1821.0 1211.7 1822.9 1213.8 1824.6C1216.0 1826.4 1218.4 1828.1 1221.1 1829.5C1223.9 1830.8 1226.7 1832.1 1230.1 1832.7C1233.5 1833.4 1238.1 1833.9 1241.4 1833.5C1244.7 1833.2 1248.2 1833.5 1249.9 1830.7Z" fill="none" stroke="#62b44c" stroke-width="2" stroke-linejoin="round" opacity="0.8"/></g>
<g clip-path="url(#ctr)"><path d="M1251.2 1830.7C1250.4 1828.0 1254.1 1820.9 1254.6 1816.5C1255.0 1812.1 1253.2 1807.3 1253.8 1804.3C1254.3 1801.4 1255.7 1800.7 1257.7 1798.7C1259.7 1796.6 1263.5 1793.7 1265.8 1792.2C1268.1 1790.7 1269.6 1790.0 1271.4 1789.7C1273.3 1789.5 1275.4 1789.7 1277.1 1790.5C1278.9 1791.4 1280.8 1793.0 1282.0 1794.6C1283.2 1796.2 1283.2 1798.8 1284.4 1800.3C1285.6 1801.8 1287.9 1801.9 1289.3 1803.5C1290.6 1805.1 1291.9 1807.6 1292.5 1810.0C1293.2 1812.4 1293.6 1815.4 1293.3 1818.1C1293.1 1820.8 1292.3 1823.9 1290.9 1826.2C1289.6 1828.5 1287.4 1830.4 1285.2 1831.9C1283.1 1833.4 1280.6 1834.7 1277.9 1835.2C1275.2 1835.6 1272.1 1834.9 1269.0 1834.5C1265.9 1834.1 1262.3 1833.4 1259.3 1832.7C1256.3 1832.1 1251.9 1833.4 1251.2 1830.7Z" fill="#70a736"/><ellipse cx="1276" cy="1816" rx="12" ry="14" fill="#86b230" filter="url(#cb2)" opacity="0.8"/><path d="M1251.2 1830.7C1250.4 1828.0 1254.1 1820.9 1254.6 1816.5C1255.0 1812.1 1253.2 1807.3 1253.8 1804.3C1254.3 1801.4 1255.7 1800.7 1257.7 1798.7C1259.7 1796.6 1263.5 1793.7 1265.8 1792.2C1268.1 1790.7 1269.6 1790.0 1271.4 1789.7C1273.3 1789.5 1275.4 1789.7 1277.1 1790.5C1278.9 1791.4 1280.8 1793.0 1282.0 1794.6C1283.2 1796.2 1283.2 1798.8 1284.4 1800.3C1285.6 1801.8 1287.9 1801.9 1289.3 1803.5C1290.6 1805.1 1291.9 1807.6 1292.5 1810.0C1293.2 1812.4 1293.6 1815.4 1293.3 1818.1C1293.1 1820.8 1292.3 1823.9 1290.9 1826.2C1289.6 1828.5 1287.4 1830.4 1285.2 1831.9C1283.1 1833.4 1280.6 1834.7 1277.9 1835.2C1275.2 1835.6 1272.1 1834.9 1269.0 1834.5C1265.9 1834.1 1262.3 1833.4 1259.3 1832.7C1256.3 1832.1 1251.9 1833.4 1251.2 1830.7Z" fill="#70a736" filter="url(#ctex)" opacity="0.8"/><path d="M1251.2 1830.7C1250.4 1828.0 1254.1 1820.9 1254.6 1816.5C1255.0 1812.1 1253.2 1807.3 1253.8 1804.3C1254.3 1801.4 1255.7 1800.7 1257.7 1798.7C1259.7 1796.6 1263.5 1793.7 1265.8 1792.2C1268.1 1790.7 1269.6 1790.0 1271.4 1789.7C1273.3 1789.5 1275.4 1789.7 1277.1 1790.5C1278.9 1791.4 1280.8 1793.0 1282.0 1794.6C1283.2 1796.2 1283.2 1798.8 1284.4 1800.3C1285.6 1801.8 1287.9 1801.9 1289.3 1803.5C1290.6 1805.1 1291.9 1807.6 1292.5 1810.0C1293.2 1812.4 1293.6 1815.4 1293.3 1818.1C1293.1 1820.8 1292.3 1823.9 1290.9 1826.2C1289.6 1828.5 1287.4 1830.4 1285.2 1831.9C1283.1 1833.4 1280.6 1834.7 1277.9 1835.2C1275.2 1835.6 1272.1 1834.9 1269.0 1834.5C1265.9 1834.1 1262.3 1833.4 1259.3 1832.7C1256.3 1832.1 1251.9 1833.4 1251.2 1830.7Z" fill="none" stroke="#38a646" stroke-width="5.4" stroke-linejoin="round" filter="url(#cb)"/><path d="M1251.2 1830.7C1250.4 1828.0 1254.1 1820.9 1254.6 1816.5C1255.0 1812.1 1253.2 1807.3 1253.8 1804.3C1254.3 1801.4 1255.7 1800.7 1257.7 1798.7C1259.7 1796.6 1263.5 1793.7 1265.8 1792.2C1268.1 1790.7 1269.6 1790.0 1271.4 1789.7C1273.3 1789.5 1275.4 1789.7 1277.1 1790.5C1278.9 1791.4 1280.8 1793.0 1282.0 1794.6C1283.2 1796.2 1283.2 1798.8 1284.4 1800.3C1285.6 1801.8 1287.9 1801.9 1289.3 1803.5C1290.6 1805.1 1291.9 1807.6 1292.5 1810.0C1293.2 1812.4 1293.6 1815.4 1293.3 1818.1C1293.1 1820.8 1292.3 1823.9 1290.9 1826.2C1289.6 1828.5 1287.4 1830.4 1285.2 1831.9C1283.1 1833.4 1280.6 1834.7 1277.9 1835.2C1275.2 1835.6 1272.1 1834.9 1269.0 1834.5C1265.9 1834.1 1262.3 1833.4 1259.3 1832.7C1256.3 1832.1 1251.9 1833.4 1251.2 1830.7Z" fill="none" stroke="#62b44c" stroke-width="2" stroke-linejoin="round" opacity="0.8"/></g>
<g clip-path="url(#cbl)"><path d="M1248.3 1833.1C1246.9 1830.6 1241.5 1833.8 1238.2 1833.7C1234.9 1833.6 1231.2 1832.9 1228.4 1832.7C1225.7 1832.6 1224.3 1831.9 1222.0 1832.9C1219.7 1833.8 1216.8 1836.4 1214.7 1838.4C1212.5 1840.4 1210.4 1842.5 1209.0 1844.9C1207.6 1847.3 1206.4 1850.6 1206.1 1853.0C1205.9 1855.4 1206.3 1858.0 1207.4 1859.5C1208.4 1861.0 1210.2 1861.4 1212.2 1861.9C1214.3 1862.5 1217.9 1861.8 1219.5 1862.7C1221.1 1863.7 1221.3 1866.0 1222.0 1867.6C1222.6 1869.2 1222.5 1871.1 1223.6 1872.5C1224.7 1873.8 1226.6 1875.2 1228.4 1875.7C1230.3 1876.3 1232.8 1876.3 1234.9 1875.7C1237.1 1875.2 1239.5 1873.8 1241.4 1872.5C1243.3 1871.1 1245.2 1869.5 1246.3 1867.6C1247.4 1865.7 1248.0 1864.2 1248.1 1861.1C1248.1 1858.0 1246.7 1853.6 1246.7 1849.0C1246.7 1844.3 1249.7 1835.7 1248.3 1833.1Z" fill="#74aa36"/><ellipse cx="1232" cy="1856" rx="13" ry="12" fill="#8eb832" filter="url(#cb2)" opacity="0.8"/><path d="M1248.3 1833.1C1246.9 1830.6 1241.5 1833.8 1238.2 1833.7C1234.9 1833.6 1231.2 1832.9 1228.4 1832.7C1225.7 1832.6 1224.3 1831.9 1222.0 1832.9C1219.7 1833.8 1216.8 1836.4 1214.7 1838.4C1212.5 1840.4 1210.4 1842.5 1209.0 1844.9C1207.6 1847.3 1206.4 1850.6 1206.1 1853.0C1205.9 1855.4 1206.3 1858.0 1207.4 1859.5C1208.4 1861.0 1210.2 1861.4 1212.2 1861.9C1214.3 1862.5 1217.9 1861.8 1219.5 1862.7C1221.1 1863.7 1221.3 1866.0 1222.0 1867.6C1222.6 1869.2 1222.5 1871.1 1223.6 1872.5C1224.7 1873.8 1226.6 1875.2 1228.4 1875.7C1230.3 1876.3 1232.8 1876.3 1234.9 1875.7C1237.1 1875.2 1239.5 1873.8 1241.4 1872.5C1243.3 1871.1 1245.2 1869.5 1246.3 1867.6C1247.4 1865.7 1248.0 1864.2 1248.1 1861.1C1248.1 1858.0 1246.7 1853.6 1246.7 1849.0C1246.7 1844.3 1249.7 1835.7 1248.3 1833.1Z" fill="#74aa36" filter="url(#ctex)" opacity="0.8"/><path d="M1248.3 1833.1C1246.9 1830.6 1241.5 1833.8 1238.2 1833.7C1234.9 1833.6 1231.2 1832.9 1228.4 1832.7C1225.7 1832.6 1224.3 1831.9 1222.0 1832.9C1219.7 1833.8 1216.8 1836.4 1214.7 1838.4C1212.5 1840.4 1210.4 1842.5 1209.0 1844.9C1207.6 1847.3 1206.4 1850.6 1206.1 1853.0C1205.9 1855.4 1206.3 1858.0 1207.4 1859.5C1208.4 1861.0 1210.2 1861.4 1212.2 1861.9C1214.3 1862.5 1217.9 1861.8 1219.5 1862.7C1221.1 1863.7 1221.3 1866.0 1222.0 1867.6C1222.6 1869.2 1222.5 1871.1 1223.6 1872.5C1224.7 1873.8 1226.6 1875.2 1228.4 1875.7C1230.3 1876.3 1232.8 1876.3 1234.9 1875.7C1237.1 1875.2 1239.5 1873.8 1241.4 1872.5C1243.3 1871.1 1245.2 1869.5 1246.3 1867.6C1247.4 1865.7 1248.0 1864.2 1248.1 1861.1C1248.1 1858.0 1246.7 1853.6 1246.7 1849.0C1246.7 1844.3 1249.7 1835.7 1248.3 1833.1Z" fill="none" stroke="#38a646" stroke-width="5.4" stroke-linejoin="round" filter="url(#cb)"/><path d="M1248.3 1833.1C1246.9 1830.6 1241.5 1833.8 1238.2 1833.7C1234.9 1833.6 1231.2 1832.9 1228.4 1832.7C1225.7 1832.6 1224.3 1831.9 1222.0 1832.9C1219.7 1833.8 1216.8 1836.4 1214.7 1838.4C1212.5 1840.4 1210.4 1842.5 1209.0 1844.9C1207.6 1847.3 1206.4 1850.6 1206.1 1853.0C1205.9 1855.4 1206.3 1858.0 1207.4 1859.5C1208.4 1861.0 1210.2 1861.4 1212.2 1861.9C1214.3 1862.5 1217.9 1861.8 1219.5 1862.7C1221.1 1863.7 1221.3 1866.0 1222.0 1867.6C1222.6 1869.2 1222.5 1871.1 1223.6 1872.5C1224.7 1873.8 1226.6 1875.2 1228.4 1875.7C1230.3 1876.3 1232.8 1876.3 1234.9 1875.7C1237.1 1875.2 1239.5 1873.8 1241.4 1872.5C1243.3 1871.1 1245.2 1869.5 1246.3 1867.6C1247.4 1865.7 1248.0 1864.2 1248.1 1861.1C1248.1 1858.0 1246.7 1853.6 1246.7 1849.0C1246.7 1844.3 1249.7 1835.7 1248.3 1833.1Z" fill="none" stroke="#62b44c" stroke-width="2" stroke-linejoin="round" opacity="0.8"/></g>
<g clip-path="url(#cbr)"><path d="M1249.5 1833.1C1247.7 1835.0 1248.4 1840.9 1248.1 1844.9C1247.8 1848.9 1247.8 1853.4 1247.9 1857.1C1248.0 1860.7 1247.9 1864.1 1248.7 1866.8C1249.5 1869.5 1251.0 1871.3 1252.8 1873.3C1254.5 1875.3 1256.8 1877.2 1259.3 1879.0C1261.7 1880.7 1264.7 1883.0 1267.4 1883.8C1270.1 1884.6 1273.3 1884.5 1275.5 1883.8C1277.7 1883.2 1279.3 1881.3 1280.4 1879.8C1281.4 1878.3 1280.8 1876.1 1282.0 1874.9C1283.2 1873.7 1285.9 1874.0 1287.7 1872.5C1289.4 1871.0 1291.6 1868.4 1292.5 1866.0C1293.5 1863.6 1293.6 1860.6 1293.3 1857.9C1293.1 1855.2 1292.3 1852.5 1290.9 1849.8C1289.6 1847.1 1287.3 1844.0 1285.2 1841.7C1283.2 1839.4 1281.4 1837.2 1278.7 1836.0C1276.0 1834.8 1272.3 1834.9 1269.0 1834.5C1265.8 1834.1 1262.5 1833.9 1259.3 1833.7C1256.0 1833.5 1251.4 1831.3 1249.5 1833.1Z" fill="#78aa34"/><ellipse cx="1270" cy="1858" rx="14" ry="16" fill="#93b930" filter="url(#cb2)" opacity="0.8"/><path d="M1249.5 1833.1C1247.7 1835.0 1248.4 1840.9 1248.1 1844.9C1247.8 1848.9 1247.8 1853.4 1247.9 1857.1C1248.0 1860.7 1247.9 1864.1 1248.7 1866.8C1249.5 1869.5 1251.0 1871.3 1252.8 1873.3C1254.5 1875.3 1256.8 1877.2 1259.3 1879.0C1261.7 1880.7 1264.7 1883.0 1267.4 1883.8C1270.1 1884.6 1273.3 1884.5 1275.5 1883.8C1277.7 1883.2 1279.3 1881.3 1280.4 1879.8C1281.4 1878.3 1280.8 1876.1 1282.0 1874.9C1283.2 1873.7 1285.9 1874.0 1287.7 1872.5C1289.4 1871.0 1291.6 1868.4 1292.5 1866.0C1293.5 1863.6 1293.6 1860.6 1293.3 1857.9C1293.1 1855.2 1292.3 1852.5 1290.9 1849.8C1289.6 1847.1 1287.3 1844.0 1285.2 1841.7C1283.2 1839.4 1281.4 1837.2 1278.7 1836.0C1276.0 1834.8 1272.3 1834.9 1269.0 1834.5C1265.8 1834.1 1262.5 1833.9 1259.3 1833.7C1256.0 1833.5 1251.4 1831.3 1249.5 1833.1Z" fill="#78aa34" filter="url(#ctex)" opacity="0.8"/><path d="M1249.5 1833.1C1247.7 1835.0 1248.4 1840.9 1248.1 1844.9C1247.8 1848.9 1247.8 1853.4 1247.9 1857.1C1248.0 1860.7 1247.9 1864.1 1248.7 1866.8C1249.5 1869.5 1251.0 1871.3 1252.8 1873.3C1254.5 1875.3 1256.8 1877.2 1259.3 1879.0C1261.7 1880.7 1264.7 1883.0 1267.4 1883.8C1270.1 1884.6 1273.3 1884.5 1275.5 1883.8C1277.7 1883.2 1279.3 1881.3 1280.4 1879.8C1281.4 1878.3 1280.8 1876.1 1282.0 1874.9C1283.2 1873.7 1285.9 1874.0 1287.7 1872.5C1289.4 1871.0 1291.6 1868.4 1292.5 1866.0C1293.5 1863.6 1293.6 1860.6 1293.3 1857.9C1293.1 1855.2 1292.3 1852.5 1290.9 1849.8C1289.6 1847.1 1287.3 1844.0 1285.2 1841.7C1283.2 1839.4 1281.4 1837.2 1278.7 1836.0C1276.0 1834.8 1272.3 1834.9 1269.0 1834.5C1265.8 1834.1 1262.5 1833.9 1259.3 1833.7C1256.0 1833.5 1251.4 1831.3 1249.5 1833.1Z" fill="none" stroke="#38a646" stroke-width="5.4" stroke-linejoin="round" filter="url(#cb)"/><path d="M1249.5 1833.1C1247.7 1835.0 1248.4 1840.9 1248.1 1844.9C1247.8 1848.9 1247.8 1853.4 1247.9 1857.1C1248.0 1860.7 1247.9 1864.1 1248.7 1866.8C1249.5 1869.5 1251.0 1871.3 1252.8 1873.3C1254.5 1875.3 1256.8 1877.2 1259.3 1879.0C1261.7 1880.7 1264.7 1883.0 1267.4 1883.8C1270.1 1884.6 1273.3 1884.5 1275.5 1883.8C1277.7 1883.2 1279.3 1881.3 1280.4 1879.8C1281.4 1878.3 1280.8 1876.1 1282.0 1874.9C1283.2 1873.7 1285.9 1874.0 1287.7 1872.5C1289.4 1871.0 1291.6 1868.4 1292.5 1866.0C1293.5 1863.6 1293.6 1860.6 1293.3 1857.9C1293.1 1855.2 1292.3 1852.5 1290.9 1849.8C1289.6 1847.1 1287.3 1844.0 1285.2 1841.7C1283.2 1839.4 1281.4 1837.2 1278.7 1836.0C1276.0 1834.8 1272.3 1834.9 1269.0 1834.5C1265.8 1834.1 1262.5 1833.9 1259.3 1833.7C1256.0 1833.5 1251.4 1831.3 1249.5 1833.1Z" fill="none" stroke="#62b44c" stroke-width="2" stroke-linejoin="round" opacity="0.8"/></g>
<text transform="translate(1235.3 1827.9) scale(0.83 1)" font-size="26" style="font-family:'Liberation Sans',sans-serif;font-weight:bold;fill:#fff;letter-spacing:3.4px">71</text>
</svg>
</body>
</html>
